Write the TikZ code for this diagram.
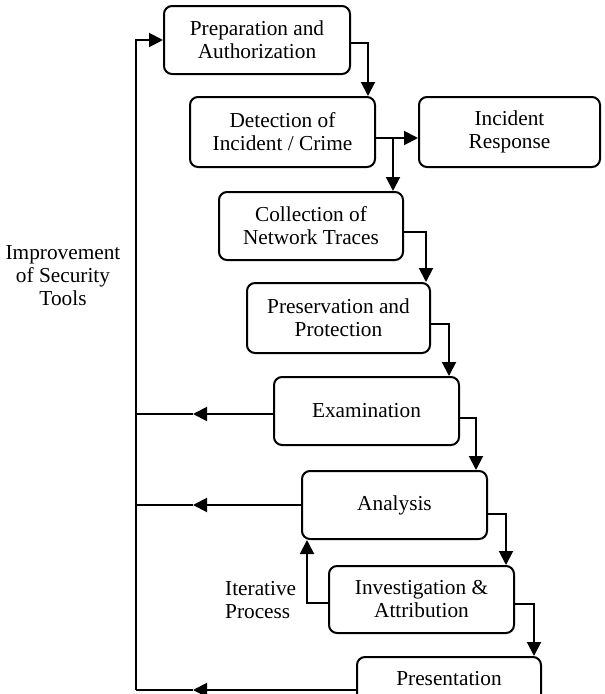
\documentclass[tikz,border=0pt]{standalone}
\usepackage{fontspec}
\setmainfont{Liberation Serif}
\usetikzlibrary{arrows.meta,calc}
\begin{document}
\begin{tikzpicture}[x=1pt,y=-1pt,
  box/.style={draw,line width=2pt,rounded corners=8pt,align=center,inner sep=0pt,
    font=\fontsize{21.3}{23}\selectfont},
  lbl/.style={font=\fontsize{21.3}{23}\selectfont,inner sep=0pt},
  con/.style={line width=2pt},
  arr/.style={line width=2pt,-{Triangle[length=14pt,width=14pt]}}]
\useasboundingbox (0,0) rectangle (605,694);
\clip (0,0) rectangle (605,694);
\node[box,minimum width=186pt,minimum height=68pt] (p1) at (257,40) {Preparation and\\Authorization};
\node[box,minimum width=185pt,minimum height=70pt] (p2) at (282.5,132) {Detection of\\Incident / Crime};
\node[box,minimum width=181pt,minimum height=70pt] (ir) at (509.5,132) {Incident\\Response};
\node[box,minimum width=184pt,minimum height=68pt] (p3) at (311,226) {Collection of\\Network Traces};
\node[box,minimum width=183pt,minimum height=70pt] (p4) at (338.5,318) {Preservation and\\Protection};
\node[box,minimum width=185pt,minimum height=68pt] (p5) at (366.5,411) {Examination};
\node[box,minimum width=185pt,minimum height=68pt] (p6) at (394.5,505) {Analysis};
\node[box,minimum width=185pt,minimum height=67pt] (p7) at (421.5,599.5) {Investigation \&\\Attribution};
\node[box,minimum width=184pt,minimum height=70pt,anchor=north] (p8) at (449,656) {};
\node[lbl] (p8t) at (449,679) {Presentation};
\node[lbl,align=center] (imp) at (63,276) {Improvement\\of Security\\Tools};
\node[lbl,align=left,anchor=west] (itp) at (225,600) {Iterative\\Process};
\coordinate (Lx) at (136,0);
\coordinate (tipx) at (193,0);
\coordinate (Lbot) at (136,690);
% main chain
\draw[arr] ([yshift=-3pt]p1.east) -| ([xshift=-8pt]p2.north east);
\draw[arr] ([yshift=-6pt]p2.east) -- ([yshift=-6pt]ir.west);
\coordinate (j) at ([xshift=17pt,yshift=-6pt]p2.east);
\draw[arr] (j) -- (j |- p3.north);
\draw[arr] ([yshift=-6pt]p3.east) -| ([xshift=-5pt]p4.north east);
\draw[arr] ([yshift=-6pt]p4.east) -| ([xshift=-11pt]p5.north east);
\draw[arr] ([yshift=-7pt]p5.east) -| ([xshift=-12pt]p6.north east);
\draw[arr] ([yshift=-9pt]p6.east) -| ([xshift=-9pt]p7.north east);
\draw[arr] ([yshift=-4pt]p7.east) -| ([xshift=-8pt]p8.north east);
% iterative loop
\draw[arr] ([yshift=-3pt]p7.west) -| ([xshift=6pt]p6.south west);
% feedback lines
\draw[arr] ([yshift=-3pt]p5.west) -- ([yshift=-3pt]p5.west -| tipx);
\draw[con] ([yshift=-3pt]p5.west -| tipx) -- ([yshift=-3pt]p5.west -| Lx);
\draw[arr] (p6.west) -- (p6.west -| tipx);
\draw[con] (p6.west -| tipx) -- (p6.west -| Lx);
\draw[arr] (p8.west |- Lbot) -- (tipx |- Lbot);
\draw[con] (tipx |- Lbot) -- (Lbot);
\draw[arr] (Lbot) |- (p1.west);
\end{tikzpicture}
\end{document}
